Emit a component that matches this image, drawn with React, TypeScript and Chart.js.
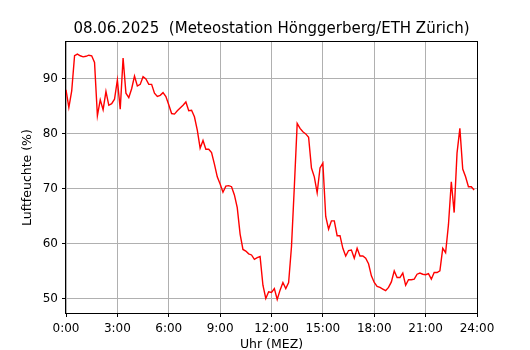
import React, { useEffect, useRef } from "react";
import { Chart, registerables } from "chart.js";

Chart.register(...registerables);

const titleText = "08.06.2025  (Meteostation Hönggerberg/ETH Zürich)";
const xLabel = "Uhr (MEZ)";
const yLabel = "Luftfeuchte (%)";

// 10-minute humidity values, 0:00 .. 23:50
const humidity: number[] = [
  88.0, 84.8, 87.8, 94.2, 94.5, 94.2, 94.0, 94.1, 94.3, 94.2, 93.0, 83.3,
  86.2, 84.4, 87.7, 85.2, 85.5, 86.3, 89.8, 84.5, 93.8, 87.4, 86.6, 88.2,
  90.5, 88.7, 89.0, 90.4, 90.0, 89.0, 89.0, 87.4, 86.8, 87.0, 87.5, 86.8,
  85.3, 83.7, 83.6, 84.2, 84.7, 85.2, 85.8, 84.2, 84.3, 83.1, 80.7, 77.4,
  78.8, 77.2, 77.2, 76.6, 74.5, 72.2, 70.9, 69.4, 70.5, 70.6, 70.4, 68.9,
  66.6, 61.8, 59.0, 58.7, 58.2, 58.0, 57.2, 57.5, 57.7, 52.5, 50.1, 51.3,
  51.2, 51.9, 49.9, 51.6, 53.0, 51.9, 53.0, 59.5, 70.4, 81.9, 81.0, 80.4,
  80.0, 79.4, 73.8, 72.2, 69.3, 73.8, 74.7, 65.0, 62.7, 64.2, 64.2, 61.5,
  61.5, 59.2, 57.8, 58.8, 58.9, 57.4, 59.2, 57.8, 57.8, 57.4, 56.4, 54.2,
  53.0, 52.3, 52.1, 51.8, 51.5, 52.1, 53.1, 55.1, 53.9, 53.9, 54.7, 52.5,
  53.5, 53.5, 53.6, 54.5, 54.7, 54.5, 54.4, 54.6, 53.6, 54.8, 54.8, 55.1,
  59.2, 58.4, 63.5, 71.3, 65.7, 76.5, 81.0, 73.6, 72.2, 70.4, 70.4, 69.8,
];

const xTicks: number[] = [0, 3, 6, 9, 12, 15, 18, 21, 24];
const yTicks: number[] = [50, 60, 70, 80, 90];
const yMin = 47.45;
const yMax = 96.7;

const FONT = "'DejaVu Sans', sans-serif";

const framePlugin = {
  id: "frame",
  afterDraw(chart: any) {
    const { ctx, chartArea } = chart;
    const { left, right, top, bottom } = chartArea;
    ctx.save();
    ctx.strokeStyle = "#000";
    ctx.lineWidth = 1;
    ctx.strokeRect(Math.round(left) - 0.5, Math.round(top) - 0.5, Math.round(right - left) + 1, Math.round(bottom - top) + 1);
    ctx.fillStyle = "#000";
    ctx.textAlign = "center";
    ctx.textBaseline = "middle";
    const cx = (left + right) / 2;
    ctx.font = `15px ${FONT}`;
    ctx.fillText(titleText, cx, 29);
    ctx.font = `12.5px ${FONT}`;
    ctx.fillText(xLabel, cx, 345);
    ctx.translate(28, (top + bottom) / 2);
    ctx.rotate(-Math.PI / 2);
    ctx.fillText(yLabel, 0, 0);
    ctx.restore();
  },
};

const bgPlugin = {
  id: "bg",
  beforeDraw(chart: any) {
    const { ctx, width, height } = chart;
    ctx.save();
    ctx.fillStyle = "#fff";
    ctx.fillRect(0, 0, width, height);
    ctx.restore();
  },
};

export default function App() {
  const ref = useRef<HTMLCanvasElement | null>(null);
  useEffect(() => {
    if (!ref.current) return;
    Chart.defaults.color = "#000";
    const chart = new Chart(ref.current, {
      type: "line",
      data: {
        datasets: [
          {
            data: humidity.map((v, i) => ({ x: i / 6, y: v })),
            borderColor: "#ff0000",
            borderWidth: 1.4,
            pointRadius: 0,
            fill: false,
            tension: 0,
          },
        ],
      },
      options: {
        animation: false,
        responsive: false,
        maintainAspectRatio: false,
        layout: { padding: { top: 42, left: 0, right: 53, bottom: 0 } },
        plugins: { legend: { display: false }, tooltip: { enabled: false }, title: { display: false } },
        scales: {
          x: {
            type: "linear",
            min: 0,
            max: 24,
            afterFit(scale: any) {
              scale.height = 37;
            },
            afterBuildTicks(scale: any) {
              scale.ticks = xTicks.map((v) => ({ value: v }));
            },
            ticks: {
              font: { family: FONT, size: 12 },
              color: "#000",
              padding: 5,
              maxRotation: 0,
              autoSkip: false,
              callback: (v: any) => `${v}:00`,
            },
            grid: { color: "#b0b0b0", lineWidth: 1, tickColor: "#000", tickLength: 4, drawTicks: true },
            border: { display: false },
          },
          y: {
            type: "linear",
            min: yMin,
            max: yMax,
            afterFit(scale: any) {
              scale.width = 66;
            },
            afterBuildTicks(scale: any) {
              scale.ticks = yTicks.map((v) => ({ value: v }));
            },
            ticks: {
              font: { family: FONT, size: 12 },
              color: "#000",
              padding: 4,
              autoSkip: false,
            },
            grid: { color: "#b0b0b0", lineWidth: 1, tickColor: "#000", tickLength: 4, drawTicks: true },
            border: { display: false },
          },
        },
      },
      plugins: [bgPlugin, framePlugin],
    });
    return () => chart.destroy();
  }, []);
  return (
    <div style={{ position: "fixed", left: 0, top: 0, width: 530, height: 350, background: "#fff" }}>
      <canvas ref={ref} width={530} height={350} style={{ width: 530, height: 350, display: "block" }} />
    </div>
  );
}
